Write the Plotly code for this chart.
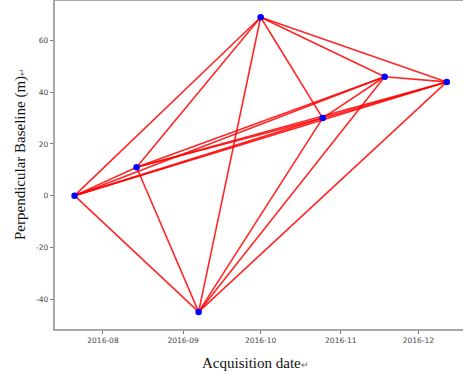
import plotly.graph_objects as go
from itertools import combinations

# Data
dates = ["2016-07-21", "2016-08-14", "2016-09-07", "2016-10-01",
         "2016-10-25", "2016-11-18", "2016-12-12"]
baselines = [0, 11, -45, 69, 30, 46, 44]
x_ticks = ["2016-08-01", "2016-09-01", "2016-10-01", "2016-11-01", "2016-12-01"]
x_tick_labels = ["2016-08", "2016-09", "2016-10", "2016-11", "2016-12"]
y_ticks = [-40, -20, 0, 20, 40, 60]
y_tick_labels = ["-40", "-20", "0", "20", "40", "60"]

# Interferometric pairs: every image with every other image
pairs = list(combinations(range(len(dates)), 2))

lx, ly = [], []
for i, j in pairs:
    lx += [dates[i], dates[j], None]
    ly += [baselines[i], baselines[j], None]

fig = go.Figure()
fig.add_trace(go.Scatter(x=lx, y=ly, mode="lines",
                         line=dict(color="rgba(255,0,0,0.85)", width=1.6),
                         hoverinfo="skip", showlegend=False))
fig.add_trace(go.Scatter(x=dates, y=baselines, mode="markers",
                         marker=dict(color="#0000ff", size=6.5),
                         showlegend=False))

axis_line = "#a8a8a8"
tick_font = dict(family="DejaVu Sans", size=7.5, color="#444")

fig.update_layout(
    width=463, height=378,
    margin=dict(l=55, r=0, t=1, b=49),
    paper_bgcolor="white", plot_bgcolor="white",
    xaxis=dict(type="date", range=["2016-07-13 10:20", "2016-12-18 07:00"],
               tickvals=x_ticks, ticktext=x_tick_labels,
               showgrid=False, zeroline=False,
               showline=True, linecolor=axis_line, linewidth=1.5, mirror=True,
               ticks="outside", ticklen=3.5, tickcolor="#777", tickwidth=1,
               tickfont=tick_font),
    yaxis=dict(range=[-51.6, 75.3], tickvals=y_ticks, ticktext=y_tick_labels,
               showgrid=False, zeroline=False,
               showline=True, linecolor=axis_line, linewidth=1.5, mirror=False,
               ticks="outside", ticklen=3.5, tickcolor="#777", tickwidth=1,
               tickfont=tick_font),
    annotations=[
        dict(text='Perpendicular Baseline (m)<span style="font-size:9px;color:#666">↵</span>',
             xref="paper", yref="paper", x=0, y=0.5335,
             xshift=-35, textangle=-90, showarrow=False,
             xanchor="center", yanchor="middle",
             font=dict(family="Liberation Serif", size=15, color="#111")),
        dict(text='Acquisition date<span style="font-size:9px;color:#666">↵</span>',
             xref="paper", yref="paper", x=0.4926, y=0,
             yshift=-34, showarrow=False,
             xanchor="center", yanchor="middle",
             font=dict(family="Liberation Serif", size=15, color="#111")),
    ],
)

fig.write_html("out.html")
